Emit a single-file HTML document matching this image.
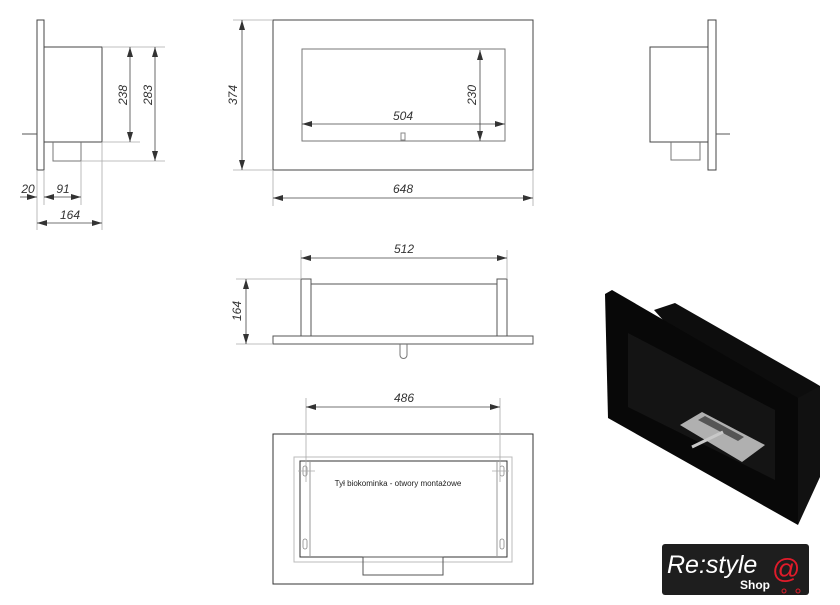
<!DOCTYPE html>
<html><head><meta charset="utf-8"><style>
html,body{margin:0;padding:0;background:#fff;}
svg{display:block;}
text{font-family:"Liberation Sans",sans-serif;font-style:italic;font-size:12px;fill:#333;}
</style></head><body>
<svg width="840" height="605" viewBox="0 0 840 605" xmlns="http://www.w3.org/2000/svg">
<defs>
<marker id="a" viewBox="0 0 10 6" refX="10" refY="3" markerWidth="10" markerHeight="6" orient="auto-start-reverse" markerUnits="userSpaceOnUse"><path d="M0,0L10,3L0,6z" fill="#333"/></marker>
</defs>
<g fill="none" stroke="#555" stroke-width="1">
<!-- left side view -->
<rect x="37" y="20" width="7" height="150" stroke="#444"/>
<rect x="44" y="47" width="58" height="95" stroke="#444"/>
<polyline points="53,142 53,161 81,161 81,142" stroke="#777"/>
<line x1="22" y1="134" x2="37" y2="134"/>
<g stroke="#aaa" stroke-width="0.8">
<line x1="102" y1="47" x2="165" y2="47"/><line x1="102" y1="142" x2="140" y2="142"/><line x1="81" y1="161" x2="165" y2="161"/>
<line x1="37" y1="170" x2="37" y2="230"/><line x1="44" y1="170" x2="44" y2="205"/><line x1="81" y1="161" x2="81" y2="205"/><line x1="102" y1="142" x2="102" y2="230"/>
</g>
<g stroke="#444" stroke-width="0.8">
<line x1="130" y1="47" x2="130" y2="142" marker-start="url(#a)" marker-end="url(#a)"/>
<line x1="155" y1="47" x2="155" y2="161" marker-start="url(#a)" marker-end="url(#a)"/>
<line x1="20" y1="197" x2="37" y2="197" marker-end="url(#a)"/>
<line x1="44" y1="197" x2="81" y2="197" marker-start="url(#a)" marker-end="url(#a)"/>
<line x1="37" y1="223" x2="102" y2="223" marker-start="url(#a)" marker-end="url(#a)"/>
</g>
<!-- right side view -->
<rect x="708" y="20" width="8" height="150" stroke="#444"/>
<rect x="650" y="47" width="58" height="95" stroke="#444"/>
<polyline points="671,142 671,160 700,160 700,142" stroke="#777"/>
<line x1="716" y1="134" x2="730" y2="134"/>
<!-- front view -->
<rect x="273" y="20" width="260" height="150" stroke="#444"/>
<rect x="302" y="49" width="203" height="92" stroke="#777"/>
<line x1="359" y1="141" x2="449" y2="141" stroke="#777"/>
<rect x="401" y="133" width="4" height="7" stroke="#888"/>
<g stroke="#aaa" stroke-width="0.8">
<line x1="233" y1="20" x2="273" y2="20"/><line x1="233" y1="170" x2="273" y2="170"/>
<line x1="273" y1="170" x2="273" y2="206"/><line x1="533" y1="170" x2="533" y2="206"/>
</g>
<g stroke="#444" stroke-width="0.8">
<line x1="242" y1="20" x2="242" y2="170" marker-start="url(#a)" marker-end="url(#a)"/>
<line x1="273" y1="198" x2="533" y2="198" marker-start="url(#a)" marker-end="url(#a)"/>
<line x1="302" y1="124" x2="505" y2="124" marker-start="url(#a)" marker-end="url(#a)"/>
<line x1="480" y1="50" x2="480" y2="141" marker-start="url(#a)" marker-end="url(#a)"/>
</g>
<!-- top view -->
<rect x="301" y="279" width="10" height="57" stroke="#555"/>
<rect x="497" y="279" width="10" height="57" stroke="#555"/>
<line x1="311" y1="284" x2="497" y2="284"/>
<rect x="273" y="336" width="260" height="8" stroke="#555"/>
<path d="M400,344 V355 a3.5,3.5 0 0 0 7,0 V344" stroke="#777"/>
<g stroke="#aaa" stroke-width="0.8">
<line x1="301" y1="250" x2="301" y2="279"/><line x1="507" y1="250" x2="507" y2="279"/>
<line x1="236" y1="279" x2="301" y2="279"/><line x1="236" y1="344" x2="273" y2="344"/>
</g>
<g stroke="#444" stroke-width="0.8">
<line x1="301" y1="258" x2="507" y2="258" marker-start="url(#a)" marker-end="url(#a)"/>
<line x1="246" y1="279" x2="246" y2="344" marker-start="url(#a)" marker-end="url(#a)"/>
</g>
<!-- back view -->
<rect x="273" y="434" width="260" height="150" stroke="#333"/>
<rect x="294" y="457" width="218" height="105" stroke="#bbb"/>
<rect x="300" y="461" width="207" height="96" stroke="#333"/>
<line x1="310" y1="461" x2="310" y2="557" stroke="#999"/>
<line x1="497" y1="461" x2="497" y2="557" stroke="#999"/>
<rect x="363" y="557" width="80" height="18" stroke="#555"/>
<g stroke="#888" stroke-width="0.8">
<rect x="303" y="466" width="4" height="10" rx="2"/><rect x="500" y="466" width="4" height="10" rx="2"/>
<rect x="303" y="539" width="4" height="10" rx="2"/><rect x="500" y="539" width="4" height="10" rx="2"/>
</g>
<g stroke="#aaa" stroke-width="0.8">
<line x1="306" y1="398" x2="306" y2="482"/><line x1="500" y1="398" x2="500" y2="482"/>
<line x1="298" y1="471" x2="315" y2="471"/><line x1="492" y1="471" x2="509" y2="471"/>
</g>
<line x1="306" y1="407" x2="500" y2="407" stroke="#444" stroke-width="0.8" marker-start="url(#a)" marker-end="url(#a)"/>
</g>
<text x="123" y="95" text-anchor="middle" transform="rotate(-90 123 95)" dy="4">238</text>
<text x="148" y="95" text-anchor="middle" transform="rotate(-90 148 95)" dy="4">283</text>
<text x="28" y="193" text-anchor="middle">20</text>
<text x="63" y="193" text-anchor="middle">91</text>
<text x="70" y="219" text-anchor="middle">164</text>
<text x="233" y="95" text-anchor="middle" transform="rotate(-90 233 95)" dy="4">374</text>
<text x="403" y="193" text-anchor="middle">648</text>
<text x="403" y="120" text-anchor="middle">504</text>
<text x="472" y="95" text-anchor="middle" transform="rotate(-90 472 95)" dy="4">230</text>
<text x="404" y="253" text-anchor="middle">512</text>
<text x="237" y="311" text-anchor="middle" transform="rotate(-90 237 311)" dy="4">164</text>
<text x="404" y="402" text-anchor="middle">486</text>
<text x="398" y="486" text-anchor="middle" style="font-style:normal;font-size:8px;fill:#222">Tył biokominka - otwory montażowe</text>
<!-- 3D render -->
<polygon points="654,310 675,303 815,383 820,386 820,477 798,470" fill="#0d0d0d"/>
<polygon points="605,294 612,290 798,398 798,525 608,418" fill="#080808"/>
<polygon points="798,398 820,386 820,477 798,525" fill="#111"/>
<polygon points="628,333 775,410 775,480 628,407" fill="#141414"/>
<polygon points="680,425 702,412 765,445 742,462" fill="#b0b0b0"/>
<polygon points="698,420 705,416 744,437 738,441" fill="#555"/>
<line x1="692" y1="447" x2="723" y2="432" stroke="#c8c8c8" stroke-width="3"/>
<!-- logo -->
<rect x="662" y="544" width="147" height="51" rx="3" fill="#1e1e1e"/>
<text x="667" y="573" style="font-style:italic;font-size:25px;fill:#fff">Re:style</text>
<text x="740" y="589" style="font-weight:bold;font-style:normal;font-size:12px;fill:#fff">Shop</text>
<text x="772" y="578" style="font-style:normal;font-size:28px;fill:#e01b2a">@</text>
<circle cx="784" cy="591" r="2" fill="none" stroke="#e01b2a"/><circle cx="798" cy="591" r="2" fill="none" stroke="#e01b2a"/>
</svg>
</body></html>
